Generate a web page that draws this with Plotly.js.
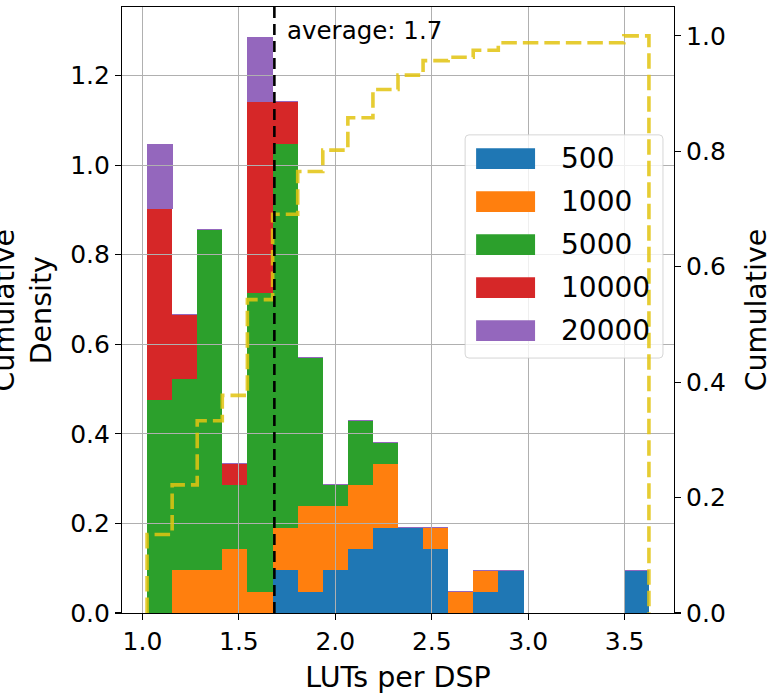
<!DOCTYPE html>
<html>
<head>
<meta charset="utf-8">
<script src="https://cdn.plot.ly/plotly-3.0.1.min.js"></script>
<style>html,body{margin:0;padding:0;background:#fff;}</style>
</head>
<body>
<div id="chart" style="width:777px;height:694px;"></div>
<script>
// ---- data ----
const binEdges = [1.024, 1.154, 1.284, 1.414, 1.544, 1.675, 1.805, 1.935, 2.065, 2.195,
                  2.325, 2.455, 2.585, 2.715, 2.845, 2.976, 3.106, 3.236, 3.366, 3.496, 3.626];
const seriesNames = ['500', '1000', '5000', '10000', '20000'];
const seriesColors = ['#1f77b4', '#ff7f0e', '#2ca02c', '#d62728', '#9467bd'];
const density500   = [0, 0, 0, 0, 0, 0.095, 0.048, 0.095, 0.143, 0.190, 0.190, 0.143, 0, 0.048, 0.095, 0, 0, 0, 0, 0.095];
const density1000  = [0, 0.095, 0.095, 0.143, 0.048, 0.095, 0.190, 0.143, 0.143, 0.143, 0, 0.048, 0.048, 0.048, 0, 0, 0, 0, 0, 0];
const density5000  = [0.476, 0.428, 0.762, 0.143, 0.666, 0.857, 0.333, 0.048, 0.143, 0.048, 0, 0, 0, 0, 0, 0, 0, 0, 0, 0];
const density10000 = [0.428, 0.143, 0, 0.048, 0.428, 0.095, 0, 0, 0, 0, 0, 0, 0, 0, 0, 0, 0, 0, 0, 0];
const density20000 = [0.143, 0, 0, 0, 0.143, 0, 0, 0, 0, 0, 0, 0, 0, 0, 0, 0, 0, 0, 0, 0];
const cumulative   = [0.136, 0.222, 0.333, 0.377, 0.543, 0.691, 0.765, 0.802, 0.858, 0.907,
                      0.932, 0.957, 0.963, 0.975, 0.988, 0.988, 0.988, 0.988, 0.988, 1.0];
const averageValue = 1.684;
const averageLabel = 'average: 1.7';
const xTickVals = [1.0, 1.5, 2.0, 2.5, 3.0, 3.5];
const yTickVals = [0.0, 0.2, 0.4, 0.6, 0.8, 1.0, 1.2];
const y2TickVals = [0.0, 0.2, 0.4, 0.6, 0.8, 1.0];

// ---- derived ----
const seriesDensity = [density500, density1000, density5000, density10000, density20000];
const binCenters = binEdges.slice(0, -1).map((e, i) => (e + binEdges[i + 1]) / 2);
const binWidths = binEdges.slice(0, -1).map((e, i) => binEdges[i + 1] - e);
const xRange = [0.894, 3.756];
const yRange = [0, 1.353];
const y2Range = [0, 1.05];

const FONT = 'DejaVu Sans, Arial, sans-serif';
const traces = seriesNames.map((name, k) => ({
  type: 'bar', name: name, x: binCenters, y: seriesDensity[k], width: binWidths,
  xaxis: 'x', yaxis: 'y',
  marker: {color: seriesColors[k],
           line: k === seriesNames.length - 1 ? {width: 1, color: seriesColors[k]} : {width: 0}},
  hoverinfo: 'skip', showlegend: false
}));
traces.push({
  type: 'scatter', mode: 'lines', name: 'Cumulative',
  x: [binEdges[0]].concat(binEdges),
  y: [0].concat(cumulative, [0]),
  xaxis: 'x2', yaxis: 'y2',
  line: {shape: 'hv', color: 'rgba(226,196,17,0.86)', width: 3.6, dash: '15.5px,6px'},
  hoverinfo: 'skip', showlegend: false
});

// legend (drawn as decoration in plot-fraction positions)
const fx = f => xRange[0] + f * (xRange[1] - xRange[0]);
const fy = f => yRange[0] + f * (yRange[1] - yRange[0]);
const shapes = [];
const annotations = [];
const lgX0 = 0.6216, lgX1 = 0.980, lgY0 = 0.4207, lgY1 = 0.789;
const rx = 0.007, ry = 0.0066;
const P = (a, b) => fx(a) + ',' + fy(b);
shapes.push({
  type: 'path', xref: 'x2', yref: 'y3', layer: 'between',
  path: 'M' + P(lgX0 + rx, lgY0) + ' L' + P(lgX1 - rx, lgY0) + ' Q' + P(lgX1, lgY0) + ' ' + P(lgX1, lgY0 + ry) +
        ' L' + P(lgX1, lgY1 - ry) + ' Q' + P(lgX1, lgY1) + ' ' + P(lgX1 - rx, lgY1) +
        ' L' + P(lgX0 + rx, lgY1) + ' Q' + P(lgX0, lgY1) + ' ' + P(lgX0, lgY1 - ry) +
        ' L' + P(lgX0, lgY0 + ry) + ' Q' + P(lgX0, lgY0) + ' ' + P(lgX0 + rx, lgY0) + ' Z',
  fillcolor: 'rgba(255,255,255,0.8)', line: {color: 'rgba(204,204,204,0.8)', width: 1}
});
seriesNames.forEach((name, k) => {
  const cy = 0.7499 - k * 0.07103;
  shapes.push({
    type: 'rect', xref: 'x2', yref: 'y3', layer: 'between',
    x0: fx(0.6415), x1: fx(0.7483), y0: fy(cy - 0.0171), y1: fy(cy + 0.0171),
    fillcolor: seriesColors[k], line: {width: 0}
  });
  annotations.push({
    xref: 'paper', yref: 'paper', x: 0.7918, y: cy, xanchor: 'left', yanchor: 'middle',
    text: name, showarrow: false, font: {family: FONT, size: 28, color: 'black'}
  });
});
// average line
shapes.push({
  type: 'line', xref: 'x2', yref: 'paper', x0: averageValue, x1: averageValue, y0: 0, y1: 1,
  layer: 'above', line: {color: 'black', width: 2.6, dash: '11px,6px'}
});
annotations.push({
  xref: 'x2', yref: 'paper', x: averageValue, xshift: 11, y: 0.9604, xanchor: 'left', yanchor: 'middle',
  text: averageLabel, showarrow: false, font: {family: FONT, size: 24.5, color: 'black'}
});
// left axis title (extends past the page edge as in the reference)
annotations.push({
  xref: 'paper', yref: 'paper', x: -0.1802, y: 0.5, xanchor: 'center', yanchor: 'middle',
  textangle: -90, text: 'Cumulative<br>Density', showarrow: false,
  font: {family: FONT, size: 28.5, color: 'black'}
});

const axisStyle = {
  ticks: 'outside', ticklen: 6, tickwidth: 1.1, tickcolor: 'black',
  showline: true, linecolor: 'black', linewidth: 1.1, zeroline: false,
  tickfont: {family: FONT, size: 25, color: 'black'}, tickformat: '.1f',
  gridcolor: '#b0b0b0', gridwidth: 1.1
};

const layout = {
  width: 777, height: 694,
  margin: {l: 122, r: 103, t: 7, b: 81, pad: 0},
  paper_bgcolor: 'white', plot_bgcolor: 'rgba(0,0,0,0)',
  font: {family: FONT, size: 25, color: 'black'},
  barmode: 'stack', bargap: 0, showlegend: false,
  xaxis: {domain: [0, 1], range: xRange, anchor: 'y', visible: false, fixedrange: true},
  yaxis: {domain: [0, 1], range: yRange, anchor: 'x', visible: false, fixedrange: true},
  xaxis2: Object.assign({}, axisStyle, {
    domain: [0, 1], range: xRange, anchor: 'y3', tickvals: xTickVals, showgrid: true, mirror: true,
    title: {text: 'LUTs per DSP', font: {family: FONT, size: 28.5, color: 'black'}}
  }),
  yaxis3: Object.assign({}, axisStyle, {
    domain: [0, 1], range: yRange, anchor: 'x2', side: 'left', tickvals: yTickVals, showgrid: true, mirror: true
  }),
  yaxis2: Object.assign({}, axisStyle, {
    range: y2Range, anchor: 'x2', overlaying: 'y3', side: 'right', tickvals: y2TickVals, showgrid: false,
    title: {text: 'Cumulative', standoff: 21, font: {family: FONT, size: 28.5, color: 'black'}}
  }),
  shapes: shapes,
  annotations: annotations
};

Plotly.newPlot('chart', traces, layout, {displayModeBar: false, staticPlot: true});
</script>
</body>
</html>
